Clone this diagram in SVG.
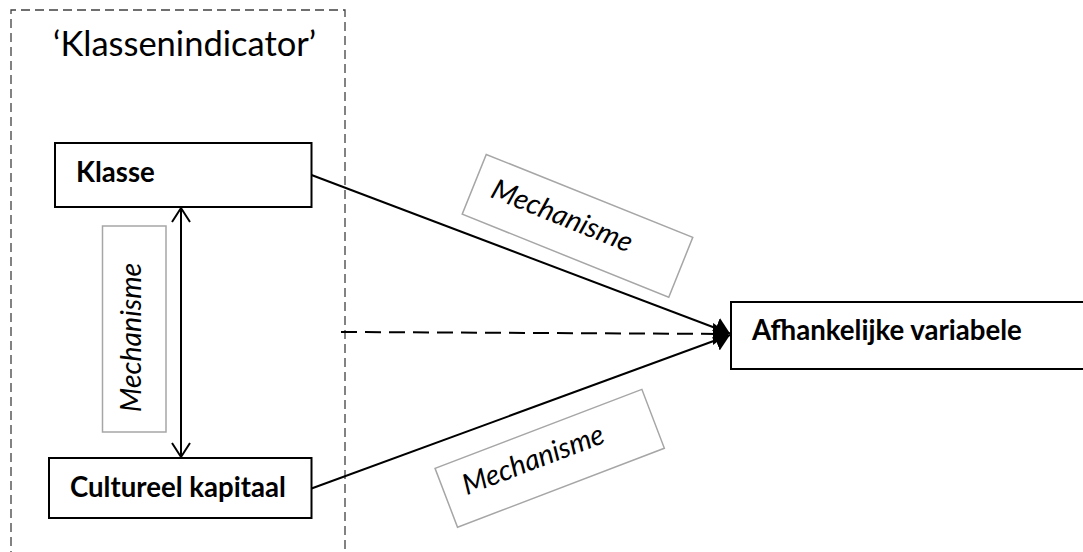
<svg xmlns="http://www.w3.org/2000/svg" width="1083" height="552" viewBox="0 0 1083 552">
<style>
  .node { fill: #ffffff; stroke: #000000; stroke-width: 2; }
  .lab { fill: #ffffff; stroke: #a6a6a6; stroke-width: 1.5; }
  .bold { font-family: Lato, "Open Sans", sans-serif; font-weight: bold; font-size: 27.6px; fill: #000; }
  .ital { font-family: Lato, "Open Sans", sans-serif; font-style: italic; font-size: 28.5px; fill: #000; }
  .title { font-family: Lato, "Open Sans", sans-serif; font-size: 34.5px; fill: #000; }
  .conn { stroke: #000; stroke-width: 2; fill: none; }
</style>
<defs>
  <marker id="open" viewBox="0 0 20 20" refX="18" refY="10" markerWidth="20" markerHeight="20" markerUnits="userSpaceOnUse" orient="auto-start-reverse">
    <path d="M4,1 L18,10 L4,19" fill="none" stroke="#000" stroke-width="2"/>
  </marker>
  <marker id="solid" viewBox="0 0 16 22" refX="15" refY="11" markerWidth="16" markerHeight="22" markerUnits="userSpaceOnUse" orient="auto">
    <path d="M0,0 L15,11 L0,22 Z" fill="#000"/>
  </marker>
</defs>
<rect width="1083" height="552" fill="#ffffff"/>

<g id="klassenindicator">
  <path d="M11,560 L11,10 L345,10 L345,560" fill="none" stroke="#404040" stroke-width="1.3" stroke-dasharray="9,5"/>
  <text class="title" x="53" y="56">‘Klassenindicator’</text>
</g>

<g id="connectors">
  <line class="conn" x1="181" y1="208" x2="181" y2="457" marker-start="url(#open)" marker-end="url(#open)"/>
  <line class="conn" x1="311.5" y1="175" x2="730" y2="333.5" marker-end="url(#solid)"/>
  <line class="conn" x1="311.5" y1="488.5" x2="730" y2="335" marker-end="url(#solid)"/>
  <line class="conn" x1="341" y1="332" x2="728" y2="334" stroke-dasharray="16,8" marker-end="url(#solid)"/>
</g>

<g id="klasse">
  <rect class="node" x="55" y="143" width="256.5" height="64"/>
  <text class="bold" x="76" y="181.5">Klasse</text>
</g>

<g id="cultureel-kapitaal">
  <rect class="node" x="49" y="458" width="262.5" height="60"/>
  <text class="bold" x="70" y="496.5">Cultureel kapitaal</text>
</g>

<g id="afhankelijke-variabele">
  <rect class="node" x="731" y="302" width="370" height="67"/>
  <text class="bold" x="752" y="340">Afhankelijke variabele</text>
</g>

<g id="mechanisme-vertical">
  <rect class="lab" x="102.5" y="226" width="63.5" height="206"/>
  <text class="ital" transform="translate(140.5,337.5) rotate(-90)" text-anchor="middle" x="0" y="0">Mechanisme</text>
</g>

<g id="mechanisme-upper" transform="translate(577.5,225.8) rotate(21.9)">
  <rect class="lab" x="-111.3" y="-32.2" width="222.6" height="64.4"/>
  <text class="ital" x="-18" y="6" text-anchor="middle">Mechanisme</text>
</g>

<g id="mechanisme-lower" transform="translate(549.7,458.3) rotate(-20.9)">
  <rect class="lab" x="-110.7" y="-31.5" width="221.4" height="63"/>
  <text class="ital" x="-16" y="5" text-anchor="middle">Mechanisme</text>
</g>
</svg>
